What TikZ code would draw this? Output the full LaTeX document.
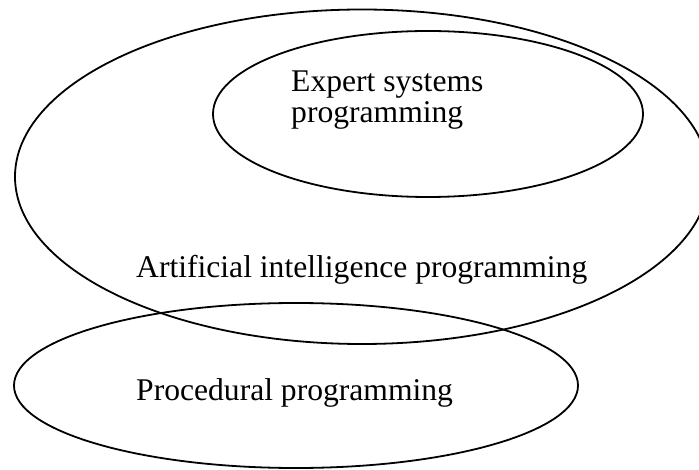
\documentclass[tikz,border=0pt]{standalone}
\usepackage{fontspec}
\setmainfont{Liberation Serif}
\begin{document}
\begin{tikzpicture}[x=1pt,y=-1pt,
  ring/.style={draw=black,line width=1.8pt},
  lbl/.style={anchor=base west,inner sep=0pt,font=\fontsize{31.6pt}{31pt}\selectfont,align=left}]
\useasboundingbox (0,0) rectangle (699,470);
\draw[ring] (362,176.75) ellipse [x radius=347pt, y radius=167.25pt];
\draw[ring] (428,114) ellipse [x radius=215pt, y radius=83pt];
\draw[ring] (296,385.5) ellipse [x radius=282pt, y radius=82.5pt];
\node[lbl] (es) at (291,123) {Expert systems\\programming};
\node[lbl] (ai) at (136,278) {Artificial intelligence programming};
\node[lbl] (pp) at (136,400) {Procedural programming};
\end{tikzpicture}
\end{document}
